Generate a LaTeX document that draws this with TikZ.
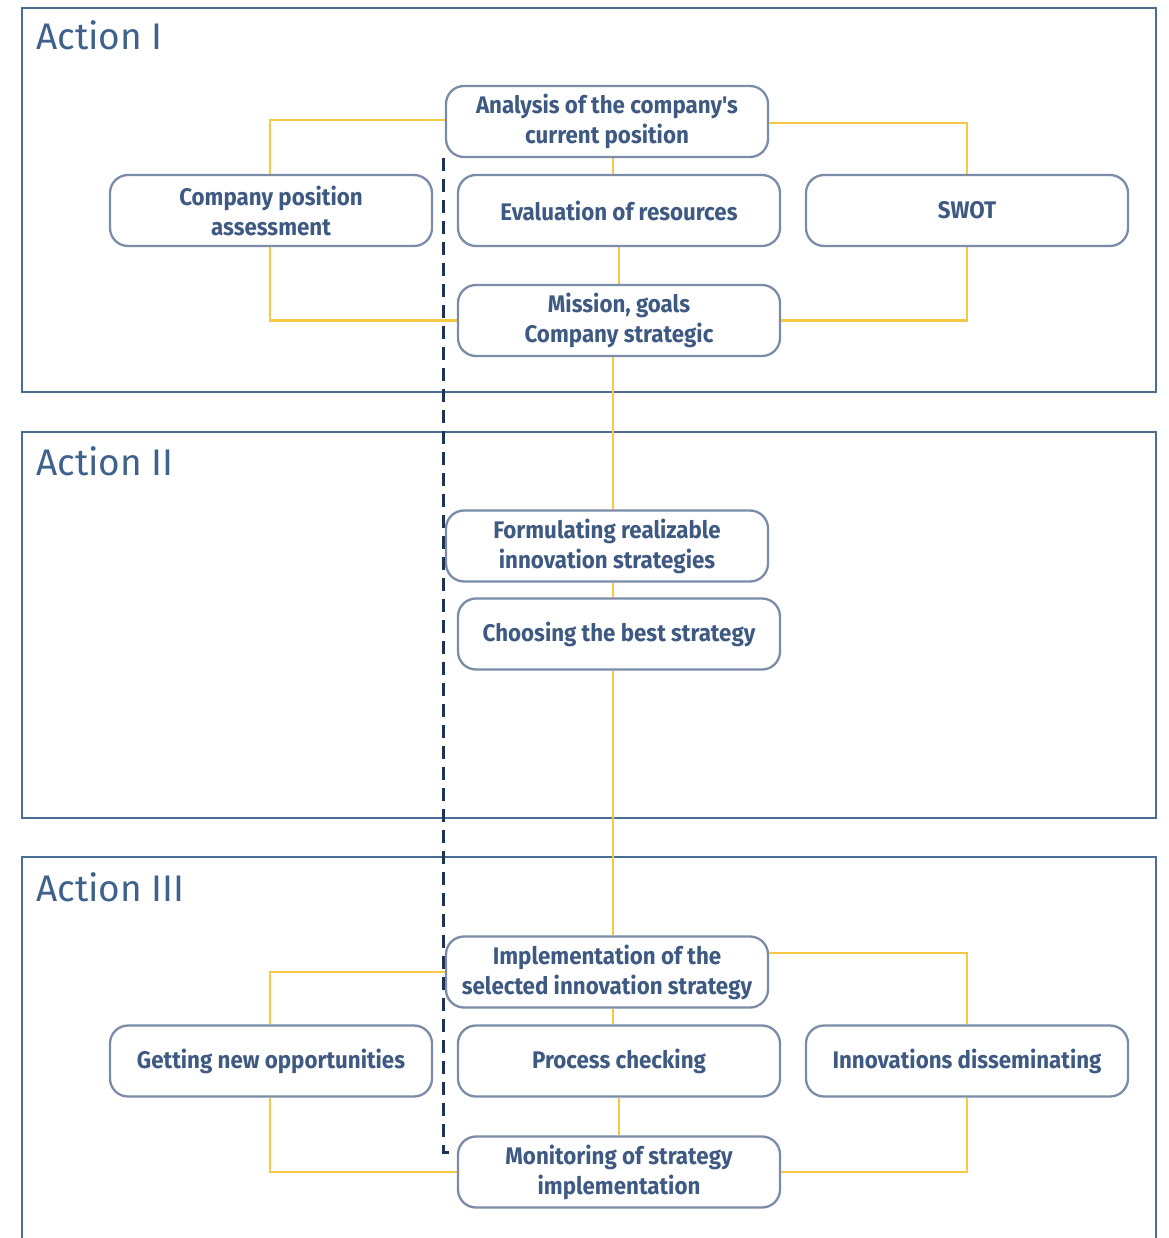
\documentclass[tikz,border=0pt]{standalone}
\usepackage{fontspec}
\setmainfont{Fira Sans}
\newfontfamily\boxfont[FakeStretch=0.93]{Fira Sans}
\newfontfamily\titlefont{Fira Sans}
\usetikzlibrary{backgrounds}
\definecolor{framec}{RGB}{74,110,147}
\definecolor{boxc}{RGB}{122,140,168}
\definecolor{txtc}{RGB}{62,90,130}
\definecolor{titlec}{RGB}{63,98,140}
\definecolor{yel}{RGB}{245,200,70}
\definecolor{navy}{RGB}{30,52,84}
\tikzset{
  stepbox/.style={draw=boxc, line width=2.3pt, rounded corners=18pt, fill=white,
    minimum width=322pt, minimum height=71pt, inner sep=0pt, align=center,
    text=txtc, font=\boxfont\bfseries\fontsize{24}{30}\selectfont},
  frame/.style={draw=framec, line width=2.5pt},
  title/.style={anchor=base west, text=titlec, inner sep=0pt, font=\titlefont\fontsize{37}{40}\selectfont},
  link/.style={draw=yel, line width=2.2pt},
  dashline/.style={draw=navy, line width=3pt, dash pattern=on 13pt off 8pt}
}
\begin{document}
\begin{tikzpicture}[x=1pt,y=-1pt]
\useasboundingbox (0,0) rectangle (1168,1238);
% boxes
\node[stepbox] (ana) at (607,121.5) {Analysis of the company's\\current position};
\node[stepbox] (cpa) at (271,210.5) {Company position\\assessment};
\node[stepbox] (eva) at (619,210.5) {Evaluation of resources};
\node[stepbox] (swot) at (967,210.5) {SWOT};
\node[stepbox] (mis) at (619,320.5) {Mission, goals\\Company strategic};
\node[stepbox] (form) at (607,546) {Formulating realizable\\innovation strategies};
\node[stepbox] (choo) at (619,634) {Choosing the best strategy};
\node[stepbox] (impl) at (607,972) {Implementation of the\\selected innovation strategy};
\node[stepbox] (get) at (271,1061) {Getting new opportunities};
\node[stepbox] (proc) at (619,1061) {Process checking};
\node[stepbox] (inn) at (967,1061) {Innovations disseminating};
\node[stepbox] (mon) at (619,1172) {Monitoring of strategy\\implementation};
\coordinate (sp) at (613,0);
\coordinate (sq) at (619,0);
\coordinate (lx) at (270,0);
\coordinate (rx) at (967,0);
\coordinate (dx) at (443,0);
\begin{scope}[on background layer]
\fill[white] (0,0) rectangle (1168,1238);
% frames
\draw[frame] (22,8) rectangle (1156,392);
\draw[frame] (22,432) rectangle (1156,818);
\draw[frame] (22,1245) -- (22,857) -- (1156,857) -- (1156,1245);
\node[title] (t1) at (36,50) {Action I};
\node[title] (t2) at (36,475) {Action II};
\node[title] (t3) at (36,901) {Action III};
% connectors
\draw[link] ([yshift=1.5pt]ana.west) -| (cpa.north -| lx);
\draw[link] ([yshift=-1.5pt]ana.east) -| (swot.north -| rx);
\draw[link] (cpa.south -| lx) |- (mis.west);
\draw[link] (swot.south -| rx) |- (mis.east);
\draw[link] (ana.south -| sp) -- (eva.north -| sp);
\draw[link] (eva.south -| sq) -- (mis.north -| sq);
\draw[link] (mis.south -| sp) -- (form.north -| sp);
\draw[link] (form.south -| sp) -- (choo.north -| sp);
\draw[link] (choo.south -| sp) -- (impl.north -| sp);
\draw[link] (impl.west) -| (get.north -| lx);
\draw[link] ([yshift=19pt]impl.east) -| (inn.north -| rx);
\draw[link] (get.south -| lx) |- (mon.west);
\draw[link] (inn.south -| rx) |- (mon.east);
\draw[link] (impl.south -| sp) -- (proc.north -| sp);
\draw[link] (proc.south -| sq) -- (mon.north -| sq);
\end{scope}
\draw[dashline] (ana.south -| dx) -- ([yshift=20pt]mon.west -| dx) -- ([yshift=20pt]mon.west);
\end{tikzpicture}
\end{document}
